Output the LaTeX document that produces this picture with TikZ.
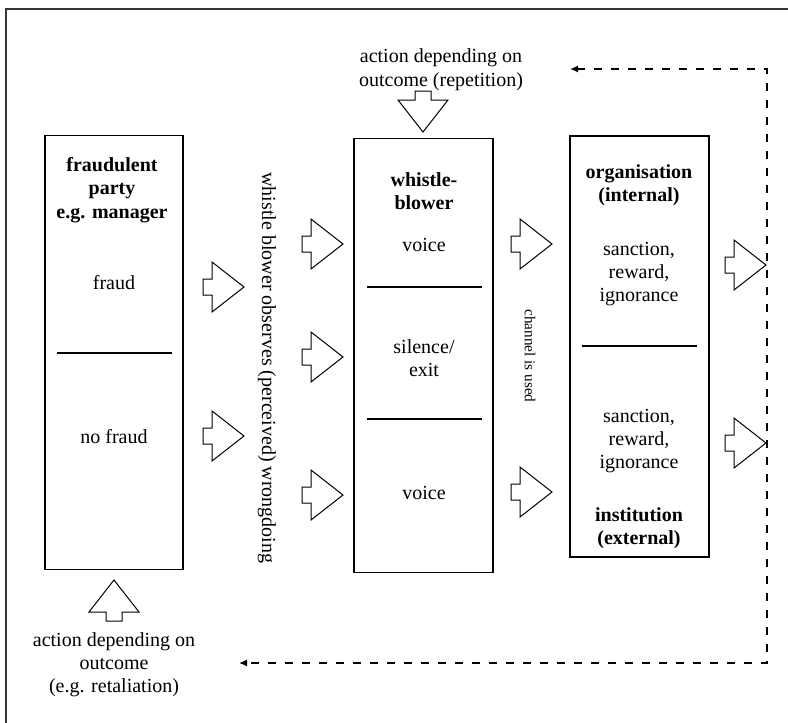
\documentclass[tikz,border=0pt]{standalone}
\usepackage{fontspec}
\setmainfont{Liberation Serif}
\usetikzlibrary{arrows.meta}

\tikzset{
  column/.style={draw, line width=.65pt, inner sep=0pt, outer sep=0pt},
  label text/.style={align=center, inner sep=0pt, font=\fontsize{10}{11.6}\selectfont},
  head text/.style={label text, font=\fontsize{10}{11.6}\selectfont\bfseries},
  divider/.style={line width=.65pt},
  feedback/.style={line width=.7pt, dash pattern=on 4pt off 4.5pt},
  pics/blockarrow/.style={code={
    \draw[line width=.5pt, fill=white]
      (0,-8) -- (9,-8) -- (9,-25) -- (41,0) -- (9,25) -- (9,8) -- (0,8) -- cycle;
  }}
}

\begin{document}
\begin{tikzpicture}[x=.5pt, y=-.5pt]
   \clip (0,0) rectangle (788,723);
   \draw[line width=1pt, draw=black!80] (6,9) rectangle (800,740);

   % the three columns
   \node[column, minimum width=69pt, minimum height=217pt]   (party)  at (114,352.5) {};
   \node[column, minimum width=69.5pt, minimum height=217pt] (blower) at (423.5,355.5) {};
   \node[column, minimum width=69.5pt, minimum height=210.5pt] (org)  at (639.5,346.5) {};

   \draw[divider] (57,353) -- (172,353);
   \draw[divider] (367,287) -- (482,287);
   \draw[divider] (367,419) -- (482,419);
   \draw[divider] (582,346) -- (697,346);

   % fraudulent party
   \node[head text]  (party title) at (112,190) {fraudulent\\party\\e.g. manager};
   \node[label text] (fraud)       at (114,283) {fraud};
   \node[label text] (no fraud)    at (114,437) {no fraud};

   % whistle-blower
   \node[head text]  (blower title) at (424,191) {whistle-\\blower};
   \node[label text] (voice a)      at (424,245) {voice};
   \node[label text] (silence)      at (424,358) {silence/\\exit};
   \node[label text] (voice b)      at (424,493) {voice};

   % organisation / institution
   \node[head text]  (org title)  at (639,185) {organisation\\(internal)};
   \node[label text] (org react)  at (639,274) {sanction,\\reward,\\ignorance};
   \node[label text] (inst react) at (639,441) {sanction,\\reward,\\ignorance};
   \node[head text]  (inst title) at (639,528) {institution\\(external)};

   % texts between the columns
   \node[label text, rotate=-90] (observes) at (267,368)
      {whistle blower observes (perceived) wrongdoing};
   \node[label text, font=\fontsize{7.6}{9}\selectfont, rotate=-90] (channel) at (530,356)
      {channel is used};

   \node[label text, font=\fontsize{10}{12}\selectfont] (repetition) at (441,70)
      {action depending on\\outcome (repetition)};
   \node[label text] (retaliation) at (114,665)
      {action depending on\\outcome\\(e.g. retaliation)};

   % block arrows
   \foreach \y in {287,436} \pic at (203,\y) {blockarrow};
   \foreach \y in {244,357,495} \pic at (302,\y) {blockarrow};
   \foreach \y in {244,492} \pic at (511,\y) {blockarrow};
   \foreach \y in {265,443} \pic at (725,\y) {blockarrow};
   \pic[rotate=-90] at (423,91) {blockarrow};
   \pic[rotate=90] at (114,621) {blockarrow};

   % feedback loop
   \coordinate (fb top)        at (767,69);
   \coordinate (fb bottom)     at (767,663);
   \coordinate (fb top end)    at (570,69);
   \coordinate (fb bottom end) at (239,663);
   \draw[feedback, {Latex[length=4pt,width=3.5pt]}-{Latex[length=4pt,width=3.5pt]}]
      (fb top end) -- (fb top) -- (fb bottom) -- (fb bottom end);
\end{tikzpicture}
\end{document}
